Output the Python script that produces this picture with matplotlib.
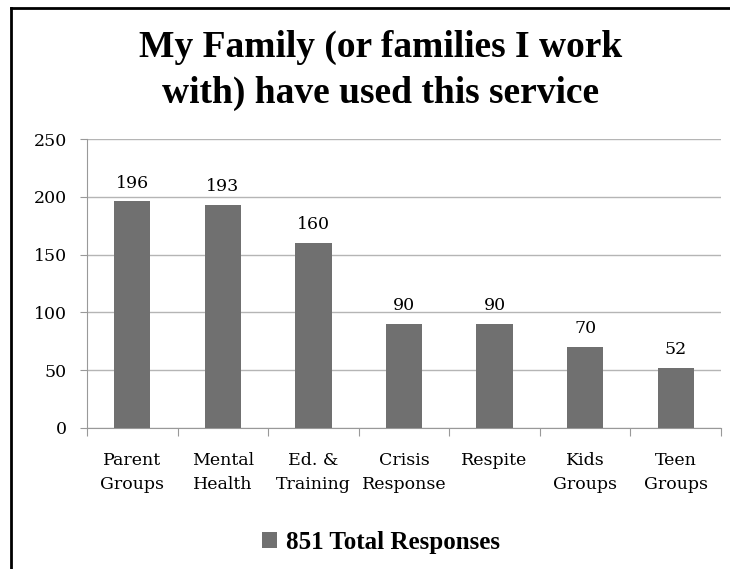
import matplotlib
matplotlib.use("Agg")
import matplotlib.pyplot as plt
from matplotlib.lines import Line2D
from matplotlib.patches import Patch
import numpy as np

categories = ["Parent\nGroups", "Mental\nHealth", "Ed. &\nTraining", "Crisis\nResponse",
              "Respite", "Kids\nGroups", "Teen\nGroups"]
values = [196, 193, 160, 90, 90, 70, 52]
series_name = "851 Total Responses"
title_lines = ["My Family (or families I work", "with) have used this service"]
yticks = [0, 50, 100, 150, 200, 250]

plt.rcParams['font.family'] = ['DejaVu Serif']
bold_font = ['Liberation Serif', 'DejaVu Serif']

W, H = 730, 569
fig = plt.figure(figsize=(W/100, H/100), dpi=100)
ax = fig.add_axes([87/W, 1-428/H, (721-87)/W, (428-139)/H])

bar_color = "#707070"
x = np.arange(len(categories))
ax.bar(x, values, width=0.4, color=bar_color, zorder=3)
for xi, v in zip(x, values):
    ax.annotate(str(v), (xi, v), xytext=(0, 10), textcoords="offset points",
                ha="center", va="baseline", fontsize=12.5)

ax.set_xlim(-0.5, len(categories) - 0.5)
ax.set_ylim(0, 250)
ax.set_yticks(yticks)
ax.set_yticklabels([str(t) for t in yticks], fontsize=12.5)
ax.yaxis.grid(True, color="#b5b5b5", linewidth=1, zorder=0)

ax.set_xticks(np.arange(-0.5, len(categories)), minor=False)
ax.set_xticklabels([])
ax.set_xticks(x, minor=True)
ax.set_xticklabels(categories, minor=True, fontsize=12.5, linespacing=1.55)
ax.tick_params(axis="x", which="major", length=6, color="#999999", direction="out")
ax.tick_params(axis="x", which="minor", length=0, pad=17.5)
ax.tick_params(axis="y", length=5, color="#999999", pad=9.5)

for s in ["top", "right"]:
    ax.spines[s].set_visible(False)
ax.spines["left"].set_color("#999999")
ax.spines["bottom"].set_color("#999999")

for line, yb in zip(title_lines, [57, 103]):
    fig.text(381/W, 1-yb/H, line, ha="center", va="baseline", fontsize=27,
             fontweight="bold", family=bold_font)

handle = Patch(facecolor=bar_color, edgecolor="none")
fig.legend([handle], [series_name], loc="center", bbox_to_anchor=(381/W, 1-542/H),
           frameon=False, prop={"weight": "bold", "size": 18, "family": bold_font},
           handlelength=0.6, handleheight=0.6, handletextpad=0.35)

# outer frame (left and top edges visible)
fig.add_artist(Line2D([11/W, 11/W], [0, 1-8/H], color="black", linewidth=2,
                      transform=fig.transFigure))
fig.add_artist(Line2D([11/W, 1], [1-8/H, 1-8/H], color="black", linewidth=2,
                      transform=fig.transFigure))

fig.savefig("out.png", dpi=100)
